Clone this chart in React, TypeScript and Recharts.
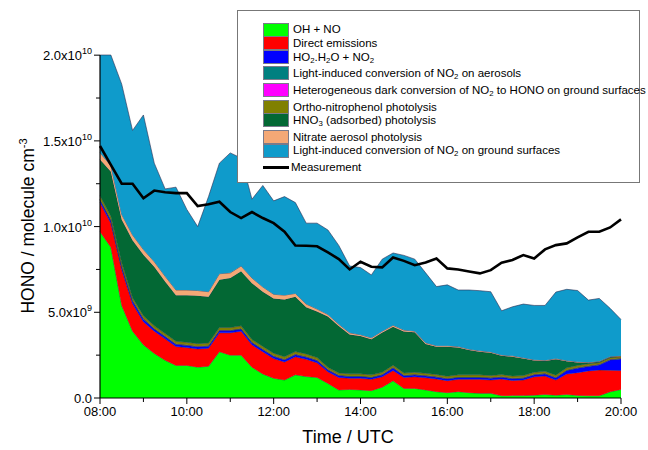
import { Area, ComposedChart, Line, XAxis, YAxis } from "recharts";

// values in units of 1e9 molecule cm-3, 15-min steps from 08:00 to 20:00
const times = [
  8, 8.25, 8.5, 8.75, 9, 9.25, 9.5, 9.75, 10, 10.25, 10.5, 10.75, 11, 11.25, 11.5, 11.75,
  12, 12.25, 12.5, 12.75, 13, 13.25, 13.5, 13.75, 14, 14.25, 14.5, 14.75, 15, 15.25, 15.5, 15.75,
  16, 16.25, 16.5, 16.75, 17, 17.25, 17.5, 17.75, 18, 18.25, 18.5, 18.75, 19, 19.25, 19.5, 19.75, 20,
];

const ohNo = [
  9.7, 8.8, 5.4, 3.9, 3.1, 2.6, 2.2, 1.9, 1.9, 1.8, 1.85, 2.7, 2.5, 2.5, 1.8, 1.4,
  1.15, 1.05, 1.35, 1.25, 1.2, 0.85, 0.47, 0.5, 0.47, 0.43, 0.63, 1.0, 0.56, 0.56, 0.47, 0.37,
  0.31, 0.37, 0.31, 0.27, 0.27, 0.13, 0.14, 0.14, 0.16, 0.2, 0.16, 0.2, 0.15, 0.13, 0.13, 0.36, 0.5,
];
const directEmissions = [
  1.7, 1.4, 2.1, 1.6, 1.35, 1.3, 1.25, 1.1, 1.04, 1.06, 1.05, 1.1, 1.3, 1.4, 1.3, 1.3,
  1.15, 1.05, 1.05, 1.01, 0.85, 0.68, 0.73, 0.65, 0.68, 0.66, 0.61, 0.6, 0.64, 0.68, 0.71, 0.74,
  0.7, 0.72, 0.78, 0.82, 0.78, 0.98, 0.88, 0.91, 1.08, 1.08, 0.89, 1.2, 1.33, 1.45, 1.5, 1.26, 1.1,
];
const ho2H2o = [
  0.15, 0.15, 0.15, 0.15, 0.15, 0.12, 0.12, 0.12, 0.12, 0.12, 0.12, 0.12, 0.12, 0.12, 0.12, 0.12,
  0.12, 0.12, 0.12, 0.12, 0.12, 0.1, 0.1, 0.1, 0.1, 0.1, 0.1, 0.15, 0.1, 0.1, 0.1, 0.1,
  0.1, 0.1, 0.1, 0.1, 0.1, 0.1, 0.1, 0.1, 0.1, 0.12, 0.12, 0.2, 0.26, 0.26, 0.3, 0.6, 0.68,
];
const aerosolLight = [
  0.04, 0.04, 0.04, 0.04, 0.04, 0.03, 0.03, 0.03, 0.03, 0.03, 0.03, 0.03, 0.03, 0.03, 0.03, 0.03,
  0.03, 0.03, 0.03, 0.03, 0.03, 0.03, 0.03, 0.03, 0.03, 0.03, 0.03, 0.03, 0.03, 0.03, 0.03, 0.03,
  0.03, 0.03, 0.03, 0.03, 0.03, 0.03, 0.03, 0.03, 0.03, 0.03, 0.03, 0.03, 0.03, 0.03, 0.03, 0.03, 0.03,
];
const darkGround = [
  0.01, 0.01, 0.01, 0.01, 0.01, 0.01, 0.01, 0.01, 0.01, 0.01, 0.01, 0.01, 0.01, 0.01, 0.01, 0.01,
  0.01, 0.01, 0.01, 0.01, 0.01, 0.01, 0.01, 0.01, 0.01, 0.01, 0.01, 0.01, 0.01, 0.01, 0.01, 0.01,
  0.01, 0.01, 0.01, 0.01, 0.01, 0.01, 0.01, 0.01, 0.01, 0.01, 0.01, 0.01, 0.01, 0.01, 0.01, 0.01, 0.01,
];
const nitrophenol = [
  0.2, 0.2, 0.2, 0.15, 0.15, 0.15, 0.15, 0.15, 0.15, 0.15, 0.15, 0.15, 0.15, 0.15, 0.15, 0.15,
  0.15, 0.15, 0.15, 0.15, 0.15, 0.12, 0.12, 0.12, 0.12, 0.12, 0.12, 0.12, 0.12, 0.12, 0.12, 0.12,
  0.12, 0.12, 0.12, 0.12, 0.12, 0.12, 0.12, 0.12, 0.12, 0.12, 0.12, 0.12, 0.12, 0.12, 0.1, 0.1, 0.1,
];
const hno3 = [
  2.11, 2.61, 2.51, 3.36, 3.56, 3.44, 3.04, 2.69, 2.75, 2.8, 2.69, 2.79, 2.89, 3.19, 3.29, 3.19,
  3.19, 3.34, 3.19, 2.73, 2.68, 2.96, 2.74, 2.29, 2.2, 2.08, 2.32, 2.25, 2.42, 2.33, 1.71, 1.62,
  1.72, 1.6, 1.45, 1.35, 1.33, 1.09, 1.13, 1.0, 0.69, 0.6, 0.93, 0.39, 0.17, 0.06, 0.04, 0.03, 0.02,
];
const nitrate = [
  0.4, 0.35, 0.3, 0.3, 0.3, 0.3, 0.3, 0.3, 0.3, 0.3, 0.3, 0.35, 0.3, 0.3, 0.3, 0.28,
  0.25, 0.25, 0.2, 0.18, 0.15, 0.12, 0.1, 0.1, 0.08, 0.08, 0.08, 0.08, 0.08, 0.07, 0.07, 0.06,
  0.06, 0.05, 0.05, 0.05, 0.05, 0.05, 0.05, 0.04, 0.04, 0.04, 0.04, 0.04, 0.04, 0.03, 0.03, 0.03, 0.03,
];
const groundLight = [
  5.7, 6.45, 7.6, 6.1, 7.85, 5.75, 5.1, 6.0, 4.7, 3.73, 5.55, 6.45, 7.0, 6.3, 4.6, 5.92,
  5.45, 5.75, 5.3, 4.72, 5.01, 4.93, 4.6, 3.9, 3.92, 3.67, 4.2, 4.22, 4.36, 4.2, 4.08, 3.45,
  3.55, 3.3, 3.45, 3.51, 3.51, 2.58, 2.86, 3.13, 3.17, 3.2, 3.88, 4.15, 4.16, 3.62, 3.67, 2.81, 2.11,
];
const measurement = [
  14.7, 13.6, 12.5, 12.5, 11.65, 12.1, 12.0, 11.95, 11.95, 11.2, 11.3, 11.45, 10.85, 10.5, 10.85, 10.5,
  10.2, 9.7, 8.9, 8.88, 8.85, 8.5, 8.1, 7.5, 7.95, 7.66, 7.62, 8.2, 8.0, 7.75, 7.9, 8.14,
  7.56, 7.5, 7.38, 7.27, 7.46, 7.89, 8.05, 8.34, 8.14, 8.67, 8.92, 9.02, 9.37, 9.7, 9.7, 9.95, 10.42,
];

const xTicks = [8, 9, 10, 11, 12, 13, 14, 15, 16, 17, 18, 19, 20];
const yTicks = [0, 2.5, 5, 7.5, 10, 12.5, 15, 17.5, 20];
const yMajor = [0, 5, 10, 15, 20];
const yMantissa = ["0.0", "5.0x10", "1.0x10", "1.5x10", "2.0x10"];
const yExponent = ["", "9", "10", "10", "10"];

const FONT = '"Liberation Sans", Arial, Helvetica, sans-serif';

const subStyle = { fontSize: "0.68em", verticalAlign: "-0.3em", lineHeight: 0 } as const;
const Sub = ({ children }: { children: string }) => <span style={subStyle}>{children}</span>;

const SERIES = [
  { key: "ohNo", color: "#00ff00", label: <>OH + NO</> },
  { key: "direct", color: "#ff0000", label: <>Direct emissions</> },
  {
    key: "ho2",
    color: "#0000ff",
    label: (
      <>
        HO<Sub>2</Sub>.H<Sub>2</Sub>O + NO<Sub>2</Sub>
      </>
    ),
  },
  {
    key: "aerosol",
    color: "#008080",
    label: (
      <>
        Light-induced conversion of NO<Sub>2</Sub> on aerosols
      </>
    ),
  },
  {
    key: "dark",
    color: "#ff00ff",
    label: (
      <>
        Heterogeneous dark conversion of NO<Sub>2</Sub> to HONO on ground surfaces
      </>
    ),
  },
  { key: "phenol", color: "#808000", label: <>Ortho-nitrophenol photolysis</> },
  {
    key: "hno3",
    color: "#036834",
    label: (
      <>
        HNO<Sub>3</Sub> (adsorbed) photolysis
      </>
    ),
  },
  { key: "nitrate", color: "#f4a876", label: <>Nitrate aerosol photolysis</> },
  {
    key: "ground",
    color: "#0f9bcb",
    label: (
      <>
        Light-induced conversion of NO<Sub>2</Sub> on ground surfaces
      </>
    ),
  },
];

// legend row centres, relative to legend box top
const legendRows = [18.5, 32, 46, 62, 79, 96, 109, 126, 139.5, 156];

const data = times.map((t, i) => ({
  t,
  ohNo: ohNo[i],
  direct: directEmissions[i],
  ho2: ho2H2o[i],
  aerosol: aerosolLight[i],
  dark: darkGround[i],
  phenol: nitrophenol[i],
  hno3: hno3[i],
  nitrate: nitrate[i],
  ground: groundLight[i],
  meas: measurement[i],
}));

function XTick({ x, y, payload }: any) {
  const v = payload.value as number;
  const major = v % 2 === 0;
  return (
    <g>
      <line x1={x} x2={x} y1={y} y2={y + (major ? 6 : 4)} stroke="#000" strokeWidth={1} />
      {major && (
        <text x={x} y={y + 18} textAnchor="middle" fontSize={13} fontFamily={FONT} fill="#000">
          {`${String(v).padStart(2, "0")}:00`}
        </text>
      )}
    </g>
  );
}

function YTick({ x, y, payload }: any) {
  const v = payload.value as number;
  const idx = yMajor.indexOf(v);
  const major = idx >= 0;
  return (
    <g>
      <line x1={x - (major ? 6 : 4)} x2={x} y1={y} y2={y} stroke="#000" strokeWidth={1} />
      {major && (
        <text x={x - 8} y={y + 5} textAnchor="end" fontSize={13} fontFamily={FONT} fill="#000">
          {yMantissa[idx]}
          {yExponent[idx] && (
            <tspan dy={-6} fontSize={9}>
              {yExponent[idx]}
            </tspan>
          )}
        </text>
      )}
    </g>
  );
}

function LegendBox() {
  return (
    <div
      style={{
        position: "absolute",
        left: 237,
        top: 10,
        width: 403,
        height: 173,
        border: "1px solid #777",
        background: "#fff",
        fontFamily: FONT,
        fontSize: 11.5,
        color: "#000",
        boxSizing: "border-box",
      }}
    >
      {SERIES.map((s, i) => (
        <div
          key={s.key}
          style={{ position: "absolute", left: 25, top: legendRows[i] - 7, height: 14, display: "flex", alignItems: "center", whiteSpace: "nowrap" }}
        >
          <span
            style={{
              display: "inline-block",
              flex: "none",
              width: 24,
              height: 12,
              background: s.color,
              border: "1px solid #7a7a8a",
              marginRight: 4,
            }}
          />
          <span style={{ lineHeight: "13px" }}>{s.label}</span>
        </div>
      ))}
      <div
        style={{ position: "absolute", left: 25, top: legendRows[9] - 7, height: 14, display: "flex", alignItems: "center" }}
      >
        <span style={{ display: "inline-block", width: 26, height: 3, background: "#000", marginRight: 2 }} />
        <span>Measurement</span>
      </div>
    </div>
  );
}

export default function App() {
  return (
    <div style={{ position: "absolute", left: 0, top: 0, width: 648, height: 450, background: "#fff" }}>
      <ComposedChart width={648} height={450} data={data} margin={{ top: 55, right: 27, bottom: 22, left: 40 }}>
        <XAxis
          dataKey="t"
          type="number"
          domain={[8, 20]}
          ticks={xTicks}
          interval={0}
          tickSize={0}
          tickMargin={0}
          tickLine={false}
          tick={<XTick />}
          height={30}
          axisLine={{ stroke: "#000", strokeWidth: 1.2 }}
        />
        <YAxis
          type="number"
          domain={[0, 20]}
          ticks={yTicks}
          interval={0}
          tickSize={0}
          tickMargin={0}
          tickLine={false}
          tick={<YTick />}
          width={60}
          axisLine={{ stroke: "#000", strokeWidth: 1.2 }}
        />
        {SERIES.map((s) => (
          <Area
            key={s.key}
            type="linear"
            dataKey={s.key}
            stackId="hono"
            fill={s.color}
            fillOpacity={1}
            stroke="#2b2b50"
            strokeWidth={0.6}
            dot={false}
            activeDot={false}
            isAnimationActive={false}
          />
        ))}
        <Line
          type="linear"
          dataKey="meas"
          stroke="#000"
          strokeWidth={2.6}
          dot={false}
          activeDot={false}
          isAnimationActive={false}
        />
      </ComposedChart>
      <svg width={648} height={450} style={{ position: "absolute", left: 0, top: 0, pointerEvents: "none" }}>
        <text
          transform="translate(34,226) rotate(-90)"
          textAnchor="middle"
          fontSize={17.5}
          fontFamily={FONT}
          fill="#000"
        >
          HONO / molecule cm
          <tspan dy={-7} fontSize={11}>
            -3
          </tspan>
        </text>
        <text x={348} y={443} textAnchor="middle" fontSize={18} fontFamily={FONT} fill="#000">
          Time / UTC
        </text>
      </svg>
      <LegendBox />
    </div>
  );
}
